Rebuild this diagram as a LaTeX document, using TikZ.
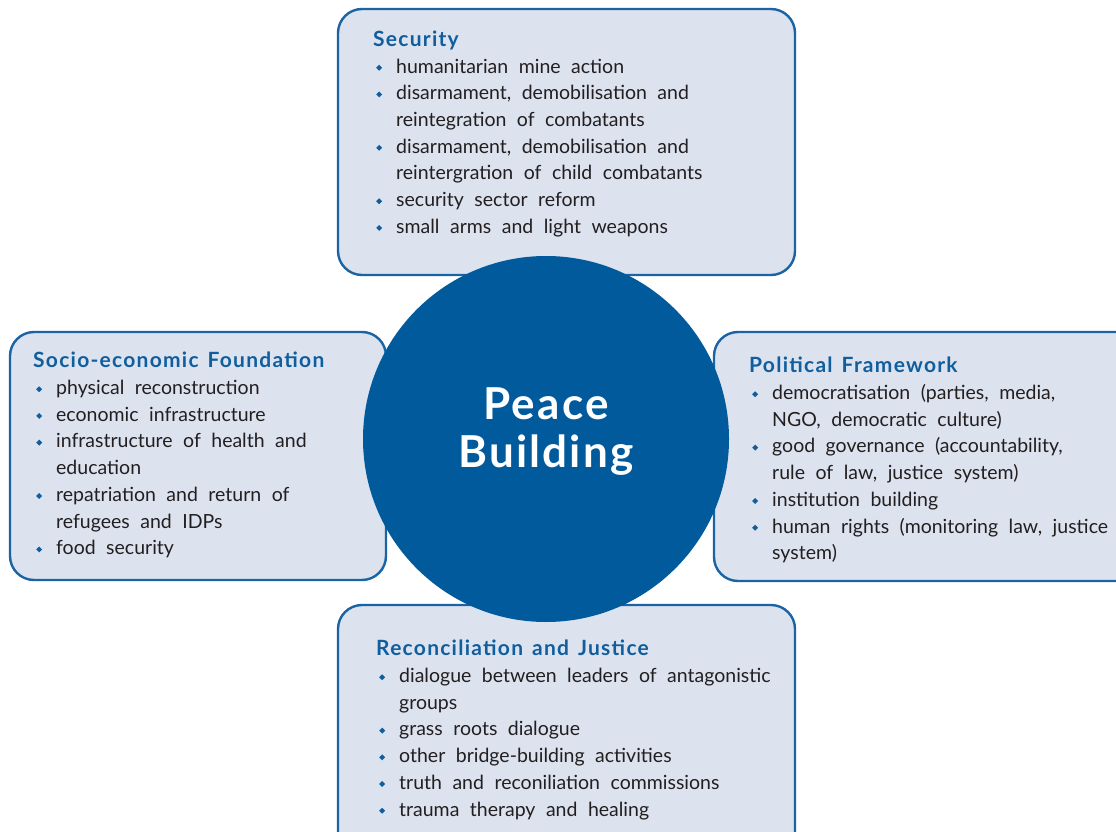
\documentclass[tikz,border=0pt]{standalone}
\usepackage{fontspec}
\setmainfont{Lato}
\newfontfamily\ttlfont{Lato}[LetterSpace=6]
\newfontfamily\corefont{Lato}[LetterSpace=5]
\usepackage{graphicx}
\usepackage{array}
\definecolor{boxfill}{HTML}{DCE3EF}
\definecolor{boxline}{HTML}{1A63A5}
\definecolor{circfill}{HTML}{005A9C}
\definecolor{titleblue}{HTML}{105E9E}
\definecolor{bodytext}{HTML}{231F20}
\newcommand{\bul}{\hspace*{3pt}\textcolor{titleblue}{\raisebox{2.4pt}{\rotatebox{45}{\rule{4.2pt}{4.2pt}}}}}
\newcommand{\ttl}[1]{\multicolumn{2}{@{}l}{\textcolor{titleblue}{\ttlfont\bfseries\fontsize{21}{26.7}\selectfont\spaceskip=9pt #1}}}
\newenvironment{blist}{\fontsize{19.5}{26.7}\selectfont\spaceskip=10.5pt\color{bodytext}\begin{tabular}{@{}p{23pt}@{}l@{}}}{\end{tabular}}
\tikzset{
  area/.style={draw=boxline, fill=boxfill, line width=2.4pt, rounded corners=24pt},
  core/.style={circle, fill=circfill, minimum size=366pt, inner sep=0pt},
  corelabel/.style={text=white, font=\corefont\fontsize{44}{48}\selectfont\bfseries, align=center, inner sep=0pt},
  txt/.style={anchor=north west, inner sep=0pt}
}
\begin{document}
\begin{tikzpicture}[x=1pt,y=-1pt]
\useasboundingbox (0,0) rectangle (1116,832);
\clip (0,0) rectangle (1116,832);
\draw[area] (338,9) rectangle (795,275);
\draw[area] (10,332) rectangle (386,580);
\draw[area] (714,332) rectangle (1140,581);
\draw[area] (338,605) rectangle (795,860);
\node[core] (pb) at (546,439) {};
\node[corelabel] (pbl) at (546,432) {Peace\\Building};
\node[txt] (sec) at (373,27.5) {\begin{blist}
\ttl{Security}\\
\bul & humanitarian mine action\\
\bul & disarmament, demobilisation and\\
 & reintegration of combatants\\
\bul & disarmament, demobilisation and\\
 & reintergration of child combatants\\
\bul & security sector reform\\
\bul & small arms and light weapons
\end{blist}};
\node[txt] (soc) at (33,349) {\begin{blist}
\ttl{Socio-economic Foundation}\\
\bul & physical reconstruction\\
\bul & economic infrastructure\\
\bul & infrastructure of health and\\
 & education\\
\bul & repatriation and return of\\
 & refugees and IDPs\\
\bul & food security
\end{blist}};
\node[txt] (pol) at (749,354) {\begin{blist}
\ttl{Political Framework}\\
\bul & democratisation (parties, media,\\
 & NGO, democratic culture)\\
\bul & good governance (accountability,\\
 & rule of law, justice system)\\
\bul & institution building\\
\bul & human rights (monitoring law, justice\\
 & system)
\end{blist}};
\node[txt] (rec) at (376,637) {\begin{blist}
\ttl{Reconciliation and Justice}\\
\bul & dialogue between leaders of antagonistic\\
 & groups\\
\bul & grass roots dialogue\\
\bul & other bridge-building activities\\
\bul & truth and reconiliation commissions\\
\bul & trauma therapy and healing
\end{blist}};
\end{tikzpicture}
\end{document}
